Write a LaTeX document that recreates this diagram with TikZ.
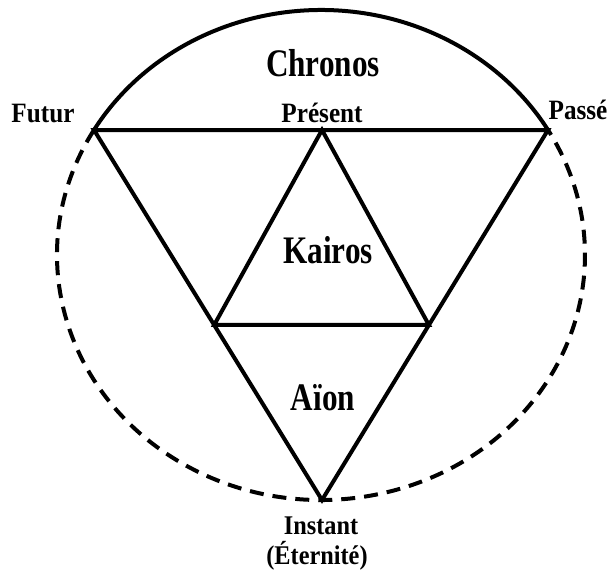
\documentclass[tikz,border=0pt]{standalone}
\usepackage{fontspec}
\setmainfont{Liberation Serif}
\newfontfamily\zonefont[FakeStretch=0.8]{Liberation Serif}
\newfontfamily\tickfont[FakeStretch=0.9]{Liberation Serif}
\usetikzlibrary{calc}
\tikzset{
  solidline/.style={line width=4pt, line join=miter},
  dashline/.style={line width=4pt, dash pattern=on 14pt off 9pt},
  zone/.style={font=\zonefont\bfseries\fontsize{39}{40}\selectfont, anchor=base, inner sep=0pt},
  tlabel/.style={font=\tickfont\bfseries\fontsize{28}{29}\selectfont, anchor=base, inner sep=0pt},
  blabel/.style={tlabel, font=\tickfont\bfseries\fontsize{27}{28}\selectfont}
}

\begin{document}
\begin{tikzpicture}[x=1pt,y=1pt]
\useasboundingbox (0,0) rectangle (610,-573);
\coordinate (centre) at (321,-255);
\coordinate (futur) at (94,-130);
\coordinate (passe) at (548,-130);
\coordinate (present) at (322,-130);
\coordinate (instant) at (322,-500);
% the circle of time: solid above, dashed below
\draw[solidline] (centre) ++(149.4:264 and 245) arc[start angle=149.4, end angle=30.6, x radius=264, y radius=245];
\draw[dashline] (centre) ++(149.4:264 and 245) arc[start angle=149.4, end angle=390.6, x radius=264, y radius=245];
% outer and inner triangles
\draw[solidline] (futur) -- (passe) -- (instant) -- cycle;
\coordinate (kl) at ($(futur)!0.527!(instant)$);
\coordinate (kr) at ($(passe)!0.527!(instant)$);
\draw[solidline] (present) -- (kl) -- (kr) -- cycle;
% labels
\node[zone] (chronos) at (323,-76) {Chronos};
\node[zone] (kairos) at (328,-263) {Kairos};
\node[zone] (aion) at (323,-410) {Aïon};
\node[tlabel] (lpresent) at (322,-122) {Présent};
\node[tlabel] (lfutur) at (43,-122) {Futur};
\node[tlabel] (lpasse) at (578,-119) {Passé};
\node[blabel] (linstant) at (321,-534) {Instant};
\node[blabel] (leternite) at (317,-564) {(Éternité)};
\end{tikzpicture}
\end{document}
